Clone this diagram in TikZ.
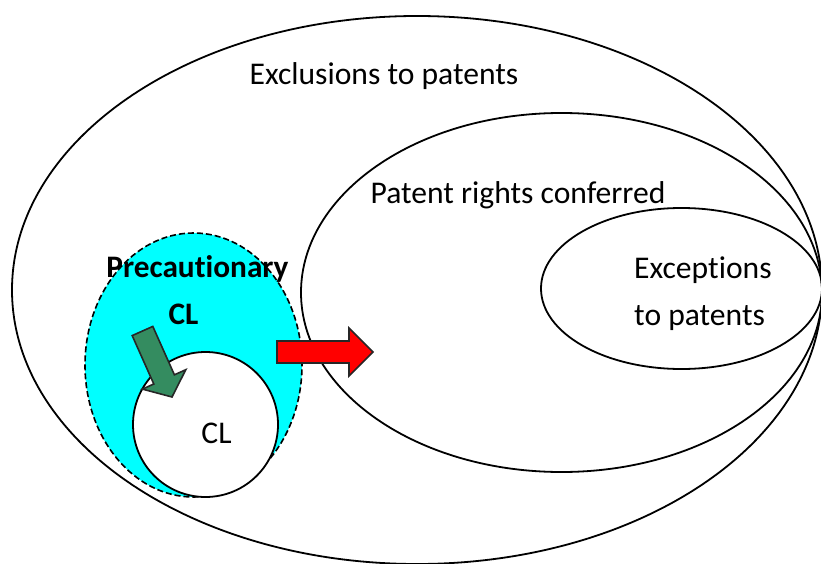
\documentclass[tikz,border=0pt]{standalone}
\usepackage{fontspec}
\setmainfont{Carlito}[Ligatures=NoCommon]
\usetikzlibrary{shapes.geometric}
\definecolor{cyanfill}{RGB}{0,255,255}
\definecolor{arrowgreen}{RGB}{52,140,96}
\definecolor{arrowred}{RGB}{255,0,0}
\tikzset{
  setline/.style={draw=black, line width=1.8pt, ellipse, inner sep=0pt, outer sep=0pt},
  label/.style={font=\fontsize{31.6}{37}\selectfont, inner sep=0pt, anchor=base},
  boldlabel/.style={label, font=\fontsize{31.3}{37}\selectfont\bfseries},
  blockarrow/.style={draw=black!85, line width=1.6pt, line join=miter}
}
\begin{document}
\begin{tikzpicture}[x=1pt, y=-1pt]
  \useasboundingbox (0,0) rectangle (821,564);
  \clip (0,0) rectangle (821,564);

  % nested sets
  \node[setline, minimum width=810pt, minimum height=548pt] (exclusions) at (417,290) {};
  \node[setline, minimum width=521pt, minimum height=359pt] (rights) at (561.5,292.5) {};
  \node[setline, minimum width=281pt, minimum height=161pt] (exceptions) at (681.5,288.5) {};

  % precautionary compulsory licences
  \node[ellipse, fill=cyanfill, draw=black, line width=1.6pt, dash pattern=on 6pt off 3pt,
        inner sep=0pt, minimum width=217pt, minimum height=264pt] (precaution) at (193.5,365) {};
  \node[circle, fill=white, draw=black, line width=1.8pt, inner sep=0pt,
        minimum size=145pt] (cl) at (205.5,424.5) {};

  % green block arrow into the CL circle
  \draw[blockarrow, fill=arrowgreen]
    (132.2,335.6) -- (153.8,384.0) -- (142.4,389.1) -- (172,397)
    -- (185.8,369.7) -- (174.4,374.8) -- (152.8,326.4) -- cycle;

  % red block arrow towards the patent rights
  \draw[blockarrow, fill=arrowred]
    (277,341) -- (349,341) -- (349,328) -- (373,352)
    -- (349,376) -- (349,363) -- (277,363) -- cycle;

  % labels
  \node[label] (tExcl) at (384,85) {Exclusions to patents};
  \node[label] (tRights) at (518,203) {Patent rights conferred};
  \node[label, anchor=base west] (tExc1) at (634,278) {Exceptions};
  \node[label, anchor=base west] (tExc2) at (634,325) {to patents};
  \node[boldlabel] (tPrec) at (197.5,277) {Precautionary};
  \node[boldlabel] (tPrecCL) at (183.5,324) {CL};
  \node[label] (tCL) at (216.5,443) {CL};
\end{tikzpicture}
\end{document}
